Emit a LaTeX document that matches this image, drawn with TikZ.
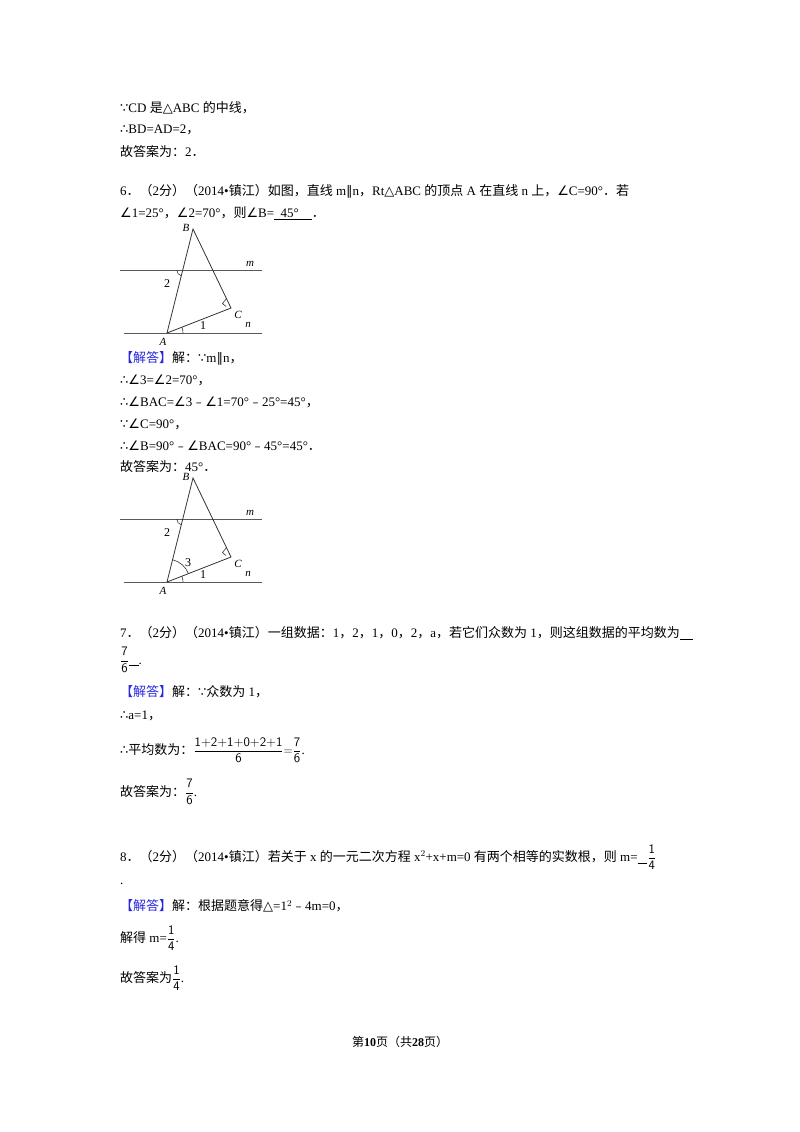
\documentclass[tikz,border=0pt]{standalone}
\usepackage{fontspec}
\setmainfont{Liberation Serif}
\newfontfamily\cjk{Noto Sans CJK SC}
\newfontfamily\symf{DejaVu Sans}
\newcommand\zh[1]{{\cjk #1}}
\newcommand\sy[1]{{\symf #1}}
\newcommand\fr[2]{$\displaystyle\frac{\textsf{#1}}{\textsf{#2}}$}
\definecolor{ansblue}{RGB}{40,40,220}
\begin{document}
\begin{tikzpicture}[x=1pt,y=-1pt,
  txt/.style={anchor=west,inner sep=0pt,font=\fontsize{13}{15}\selectfont},
  ln/.style={line width=0.8pt,gray!70!black},
  tri/.style={line width=0.8pt,black!80},
  lab/.style={inner sep=0pt,font=\itshape\fontsize{11}{12}\selectfont}]
\useasboundingbox (0,0) rectangle (800,1132);
\fill[white] (0,0) rectangle (800,1132);
\node[txt] (t1) at (120,108) {\sy{∵}CD \zh{是}\sy{△}ABC \zh{的中线，}};
\node[txt] (t2) at (120,130) {\sy{∴}BD=AD=2\zh{，}};
\node[txt] (t3) at (120,152) {\zh{故答案为：}2\zh{．}};
\node[txt] (q6) at (120,191) {6\zh{．（}2\zh{分）（}2014\textbullet\zh{镇江）如图，直线} m\sy{∥}n\zh{，}Rt\sy{△}ABC \zh{的顶点} A \zh{在直线} n \zh{上，}\sy{∠}C=90\textdegree\zh{．若}};
\node[txt] (q6b) at (120,213) {\sy{∠}1=25\textdegree\zh{，}\sy{∠}2=70\textdegree\zh{，则}\sy{∠}B=\underline{\ \ 45\textdegree\ \ \ \ }\zh{．}};
\foreach \dy/\nm in {0/a,249/b}{
\begin{scope}[yshift=-\dy]
\coordinate (B\nm) at (193,229);
\coordinate (A\nm) at (167,333);
\coordinate (C\nm) at (231,308);
\coordinate (m1\nm) at (120,270); \coordinate (m2\nm) at (262,270);
\coordinate (n1\nm) at (124,333); \coordinate (n2\nm) at (262,333);
\draw[ln] (m1\nm) -- (m2\nm);
\draw[ln] (n1\nm) -- (n2\nm);
\draw[tri] (A\nm) -- (B\nm) -- (C\nm) -- cycle;
\draw[tri,line width=0.6pt] (226.5,298.5) -- (222.5,303.5) -- (226,306.5);
\draw[tri,line width=0.6pt] (176.8,270) arc[start angle=180,end angle=104,radius=6];
\draw[tri,line width=0.6pt] (183,333) arc[start angle=0,end angle=-21,radius=16];
\node[lab] (lB\nm) at (186,228) {B};
\node[lab] (lm\nm) at (250,264) {m};
\node[lab] (ln\nm) at (248,325) {n};
\node[lab] (lC\nm) at (238,315) {C};
\node[lab] (lA\nm) at (163,342) {A};
\node[lab,font=\fontsize{12}{12}\selectfont] (l2\nm) at (167,284) {2};
\node[lab,font=\fontsize{12}{12}\selectfont] (l1\nm) at (203,326) {1};
\end{scope}}
\draw[tri,line width=0.6pt] (172.6,559.7) arc[start angle=-76,end angle=-21,radius=23];
\node[lab,font=\fontsize{12}{12}\selectfont] (l3) at (188,563) {3};
\node[txt] (s1) at (120,358) {\textcolor{ansblue}{\zh{【解答】}}\zh{解：}\sy{∵}m\sy{∥}n\zh{，}};
\node[txt] (s2) at (120,380) {\sy{∴∠}3=\sy{∠}2=70\textdegree\zh{，}};
\node[txt] (s3) at (120,402) {\sy{∴∠}BAC=\sy{∠}3\zh{﹣}\sy{∠}1=70\textdegree\zh{﹣}25\textdegree=45\textdegree\zh{，}};
\node[txt] (s4) at (120,424) {\sy{∵∠}C=90\textdegree\zh{，}};
\node[txt] (s5) at (120,446) {\sy{∴∠}B=90\textdegree\zh{﹣}\sy{∠}BAC=90\textdegree\zh{﹣}45\textdegree=45\textdegree\zh{．}};
\node[txt] (s6) at (120,467) {\zh{故答案为：}45\textdegree\zh{．}};
\node[txt] (q7) at (120,633) {7\zh{．（}2\zh{分）（}2014\textbullet\zh{镇江）一组数据：}1\zh{，}2\zh{，}1\zh{，}0\zh{，}2\zh{，}a\zh{，若它们众数为} 1\zh{，则这组数据的平均数为}\underline{\ \ \ \ }};
\node[txt] (q7b) at (120,660) {\fr{7}{6}\underline{\ \ \ }.};
\node[txt] (r1) at (120,692) {\textcolor{ansblue}{\zh{【解答】}}\zh{解：}\sy{∵}\zh{众数为} 1\zh{，}};
\node[txt] (r2) at (120,716) {\sy{∴}a=1\zh{，}};
\node[txt] (r3) at (120,750) {\sy{∴}\zh{平均数为：}\fr{1+2+1+0+2+1}{6}$=$\fr{7}{6}.};
\node[txt] (r4) at (120,792) {\zh{故答案为：}\fr{7}{6}.};
\node[txt] (q8) at (120,857) {8\zh{．（}2\zh{分）（}2014\textbullet\zh{镇江）若关于} x \zh{的一元二次方程} x$^2$+x+m=0 \zh{有两个相等的实数根，则} m=\underline{\ \ \ }\fr{1}{4}};
\node[txt] (q8b) at (120,884) {.};
\node[txt] (p1) at (120,906) {\textcolor{ansblue}{\zh{【解答】}}\zh{解：根据题意得}\sy{△}=1$^2$\zh{﹣}4m=0\zh{，}};
\node[txt] (p2) at (120,938) {\zh{解得} m=\fr{1}{4}.};
\node[txt] (p3) at (120,978) {\zh{故答案为}\fr{1}{4}.};
\node[inner sep=0pt,font=\fontsize{12}{14}\selectfont] (ft) at (400,1042) {\zh{第}\textbf{10}\zh{页（共}\textbf{28}\zh{页）}};
\end{tikzpicture}
\end{document}
